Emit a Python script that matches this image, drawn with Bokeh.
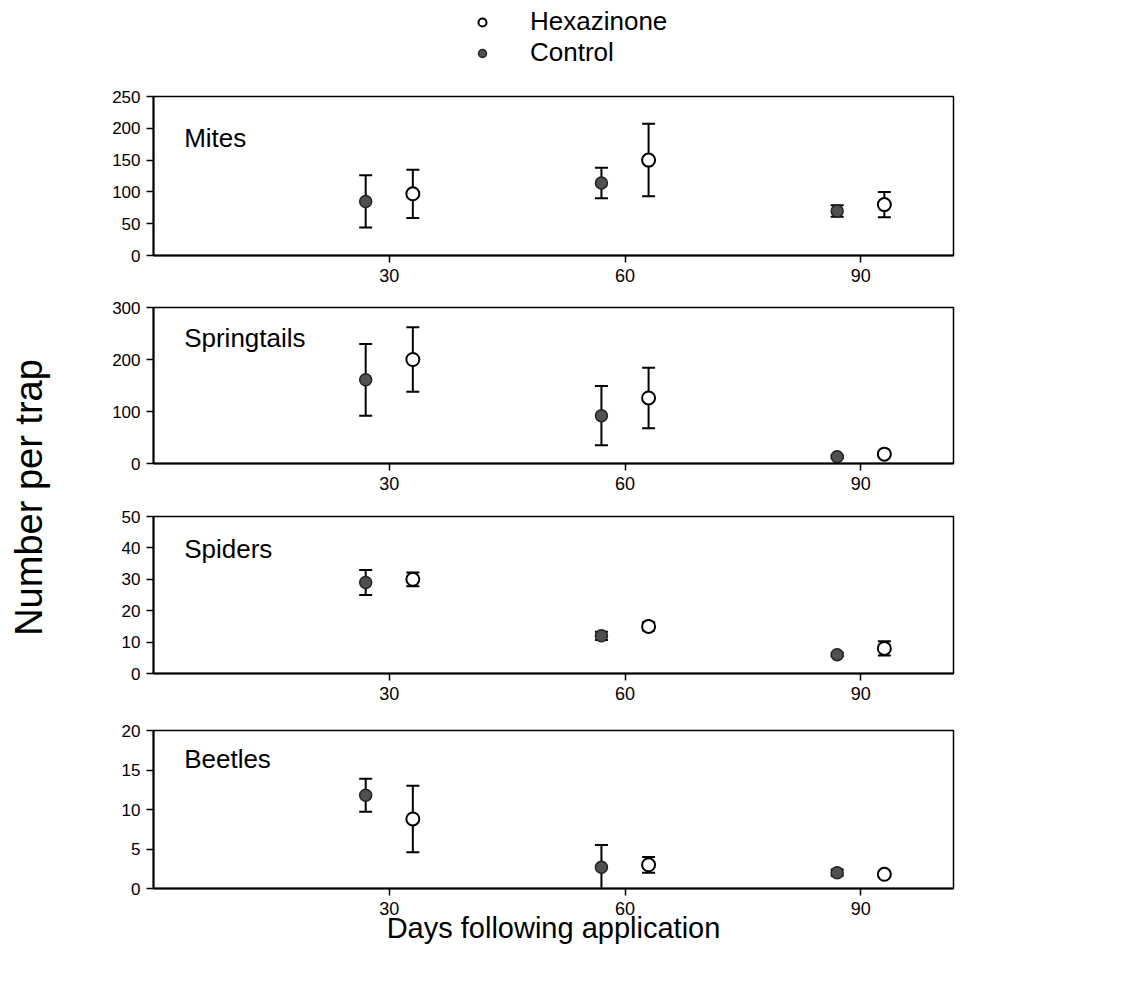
from math import pi
from bokeh.plotting import figure
from bokeh.layouts import row, column
from bokeh.models import (ColumnDataSource, Whisker, TeeHead, Label, Legend,
                          FixedTicker, Range1d)
from bokeh.embed import file_html
from bokeh.resources import INLINE

# ---------------- data ----------------
days_control = [27, 57, 87]
days_hex = [33, 63, 93]

panel_names = ["Mites", "Springtails", "Spiders", "Beetles"]
y_max = [250, 300, 50, 20]
y_ticks = [[0, 50, 100, 150, 200, 250], [0, 100, 200, 300],
           [0, 10, 20, 30, 40, 50], [0, 5, 10, 15, 20]]
x_ticks = [30, 60, 90]

mites_control = [85, 114, 70]
mites_control_err = [41, 24, 9]
mites_hex = [97, 150, 80]
mites_hex_err = [38, 57, 20]

spring_control = [161, 92, 13]
spring_control_err = [69, 57, 3]
spring_hex = [200, 126, 18]
spring_hex_err = [62, 58, 3]

spiders_control = [29, 12, 6]
spiders_control_err = [4, 1.3, 0.6]
spiders_hex = [30, 15, 8]
spiders_hex_err = [2.2, 1.3, 2.3]

beetles_control = [11.8, 2.7, 2.0]
beetles_control_err = [2.1, 2.8, 0.4]
beetles_hex = [8.8, 3.0, 1.8]
beetles_hex_err = [4.2, 1.0, 0.3]

control_vals = [mites_control, spring_control, spiders_control, beetles_control]
control_errs = [mites_control_err, spring_control_err, spiders_control_err, beetles_control_err]
hex_vals = [mites_hex, spring_hex, spiders_hex, beetles_hex]
hex_errs = [mites_hex_err, spring_hex_err, spiders_hex_err, beetles_hex_err]

# ---------------- layout / style ----------------
FONT = "Liberation Sans"
LAB_W = 68
BORDER_L = 85
FRAME_W = 800
BORDER_R = 21
frame_heights = [159, 156, 157, 158]
borders_top = [12, 12, 13, 17]
borders_bottom = [40, 40, 40, 80]
label_offsets = [-26, -15, -17, -13]
HEADER_H = 84

CTRL_STYLE = dict(marker="circle", fill_color="#505050", line_color="#222222", line_width=1.5)
HEX_STYLE = dict(marker="circle", fill_color="white", line_color="black", line_width=2)

# header figure holding the legend
head = figure(frame_width=FRAME_W, frame_height=HEADER_H,
              x_range=Range1d(0, 1), y_range=Range1d(0, 1),
              min_border_left=BORDER_L, min_border_right=BORDER_R,
              min_border_top=0, min_border_bottom=0,
              toolbar_location=None, output_backend="svg")
head.axis.visible = False
head.grid.visible = False
head.outline_line_color = None
lh = head.scatter(x=[-5], y=[-5], size=10, **HEX_STYLE)
lc = head.scatter(x=[-5], y=[-5], size=10, **CTRL_STYLE)
legend = Legend(items=[("Hexazinone", [lh]), ("Control", [lc])],
                location=(319, HEADER_H - 68), orientation="vertical",
                border_line_color=None, background_fill_alpha=0,
                label_text_font=FONT, label_text_font_size="26px",
                label_text_color="black", label_standoff=38,
                glyph_width=20, glyph_height=30, label_height=30,
                spacing=0, padding=0, margin=0)
head.add_layout(legend)

figs = [head]
for i in range(4):
    p = figure(frame_width=FRAME_W, frame_height=frame_heights[i],
               x_range=Range1d(0, 101.8), y_range=Range1d(0, y_max[i]),
               min_border_left=BORDER_L, min_border_right=BORDER_R,
               min_border_top=borders_top[i], min_border_bottom=borders_bottom[i],
               toolbar_location=None, output_backend="svg")
    p.background_fill_color = "white"
    p.border_fill_color = "white"
    p.outline_line_color = "black"
    p.outline_line_width = 1.5
    p.xgrid.visible = False
    p.ygrid.visible = False
    for ax in (p.xaxis[0], p.yaxis[0]):
        ax.axis_line_width = 2
        ax.axis_line_color = "black"
        ax.major_tick_in = 0
        ax.major_tick_out = 7
        ax.major_tick_line_width = 1.5
        ax.minor_tick_line_color = None
        ax.major_label_text_font = FONT
        ax.major_label_text_color = "black"
    p.xaxis.major_label_text_font_size = "18px"
    p.yaxis.major_label_text_font_size = "17px"
    p.xaxis.ticker = FixedTicker(ticks=x_ticks)
    p.yaxis.ticker = FixedTicker(ticks=y_ticks[i])
    p.xaxis.major_label_standoff = 6
    p.yaxis.major_label_standoff = 6

    csrc = ColumnDataSource(dict(x=days_control, y=control_vals[i],
                                 lo=[v - e for v, e in zip(control_vals[i], control_errs[i])],
                                 hi=[v + e for v, e in zip(control_vals[i], control_errs[i])]))
    hsrc = ColumnDataSource(dict(x=days_hex, y=hex_vals[i],
                                 lo=[v - e for v, e in zip(hex_vals[i], hex_errs[i])],
                                 hi=[v + e for v, e in zip(hex_vals[i], hex_errs[i])]))
    for src in (csrc, hsrc):
        w = Whisker(base="x", upper="hi", lower="lo", source=src,
                    line_color="black", line_width=2,
                    upper_head=TeeHead(size=13, line_width=2, line_color="black"),
                    lower_head=TeeHead(size=13, line_width=2, line_color="black"))
        p.add_layout(w)
    p.scatter("x", "y", source=csrc, size=12, **CTRL_STYLE)
    p.scatter("x", "y", source=hsrc, size=13, **HEX_STYLE)

    p.add_layout(Label(x=3.9, y=y_max[i], y_offset=label_offsets[i], text=panel_names[i],
                       text_font=FONT, text_font_size="26px", text_baseline="top",
                       text_color="black"))

    if i == 3:
        p.xaxis.axis_label = "Days following application"
        p.xaxis.axis_label_text_font = FONT
        p.xaxis.axis_label_text_font_size = "29px"
        p.xaxis.axis_label_text_font_style = "normal"
        p.xaxis.axis_label_text_color = "black"
        p.xaxis.axis_label_standoff = -6
    figs.append(p)

total_h = HEADER_H + sum(frame_heights) + sum(borders_top) + sum(borders_bottom)
lab = figure(frame_width=LAB_W, frame_height=total_h, x_range=Range1d(0, LAB_W),
             y_range=Range1d(0, total_h), min_border=0,
             toolbar_location=None, output_backend="svg")
lab.axis.visible = False
lab.grid.visible = False
lab.outline_line_color = None
lab.add_layout(Label(x=28, y=total_h - 497, text="Number per trap", angle=pi / 2,
                     text_align="center", text_baseline="middle",
                     text_font=FONT, text_font_size="38px", text_color="black"))

layout = row(lab, column(*figs, spacing=0), spacing=0)
open("out.html", "w").write(file_html(layout, INLINE))
